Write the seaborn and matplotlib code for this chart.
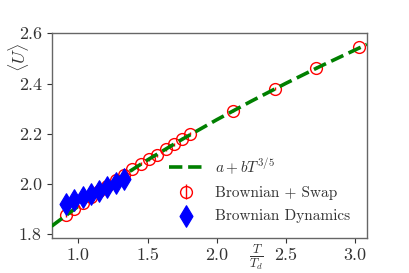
import matplotlib
matplotlib.use("Agg")
import matplotlib.pyplot as plt
import seaborn as sns
import pandas as pd

# Brownian + Swap (red open circles with error bars)
swap_T = [0.91, 0.97, 1.03, 1.09, 1.15, 1.21, 1.27, 1.33, 1.39, 1.45, 1.51,
          1.57, 1.63, 1.69, 1.75, 1.81, 2.12, 2.42, 2.72, 3.03]
swap_U = [1.876, 1.900, 1.924, 1.948, 1.971, 1.993, 2.015, 2.037, 2.059, 2.081,
          2.098, 2.115, 2.138, 2.158, 2.180, 2.200, 2.292, 2.380, 2.462, 2.545]
swap_err = [0.006] * len(swap_T)

# Brownian Dynamics (blue diamonds)
bd_T = [0.91, 0.97, 1.03, 1.09, 1.15, 1.21, 1.27, 1.33]
bd_U = [1.922, 1.935, 1.948, 1.960, 1.973, 1.988, 2.003, 2.020]

# fit curve a + b T^{3/5}
fit_T = [0.806, 1.0, 1.25, 1.5, 1.75, 2.0, 2.25, 2.5, 2.75, 3.085]
fit_U = [1.832, 1.912, 2.008, 2.096, 2.178, 2.256, 2.330, 2.401, 2.469, 2.556]

x_ticks = [1.0, 1.5, 2.0, 2.5, 3.0]
y_ticks = [1.8, 2.0, 2.2, 2.4, 2.6]

sns.set_style("ticks")
plt.rcParams["font.family"] = ["cmr10", "DejaVu Serif"]
plt.rcParams["mathtext.fontset"] = "cm"
plt.rcParams["axes.unicode_minus"] = False
plt.rcParams["axes.formatter.use_mathtext"] = True

fig = plt.figure(figsize=(4.09, 2.73), dpi=100)
ax = fig.add_axes([0.126, 0.128, 0.771, 0.750])

fit_df = pd.DataFrame({"T": fit_T, "U": fit_U})
sns.lineplot(data=fit_df, x="T", y="U", ax=ax, color="green", linestyle="--",
             linewidth=2.6, sort=False, label=r"$a + bT^{3/5}$", zorder=3)

eb = ax.errorbar(swap_T, swap_U, yerr=swap_err, fmt="o", mfc="none", mec="red",
                 ecolor="red", mew=1.0, ms=8.5, elinewidth=1.0, zorder=2,
                 label="Brownian + Swap")

bd_df = pd.DataFrame({"T": bd_T, "U": bd_U})
sns.scatterplot(data=bd_df, x="T", y="U", ax=ax, marker="d", color="blue",
                edgecolor="blue", s=120, zorder=4, label="Brownian Dynamics")

ax.set_xlim(0.806, 3.085)
ax.set_ylim(1.785, 2.6)
ax.set_xticks(x_ticks)
ax.set_yticks(y_ticks)
ax.set_xticklabels([f"{v:.1f}" for v in x_ticks])
ax.set_yticklabels([f"{v:.1f}" for v in y_ticks])
ax.tick_params(labelsize=13, colors="#333333", length=3.5, width=0.8)
for sp in ax.spines.values():
    sp.set_visible(True)
    sp.set_color("#666666")
    sp.set_linewidth(1.0)

ax.set_xlabel(r"$\frac{T}{T_d}$", fontsize=13, color="#333333")
ax.xaxis.set_label_coords(0.651, -0.02)
ax.set_ylabel(r"$\langle U\rangle$", fontsize=13, color="#333333")
ax.yaxis.set_label_coords(-0.065, 0.885)

handles, labels = ax.get_legend_handles_labels()
order = [labels.index(r"$a + bT^{3/5}$"), labels.index("Brownian + Swap"),
         labels.index("Brownian Dynamics")]
leg = ax.legend([handles[i] for i in order], [labels[i] for i in order],
                loc="lower right", bbox_to_anchor=(0.99, 0.006), frameon=False,
                fontsize=11, handlelength=2.2, labelspacing=0.6,
                labelcolor="#333333")

fig.savefig("out.png", dpi=100)
